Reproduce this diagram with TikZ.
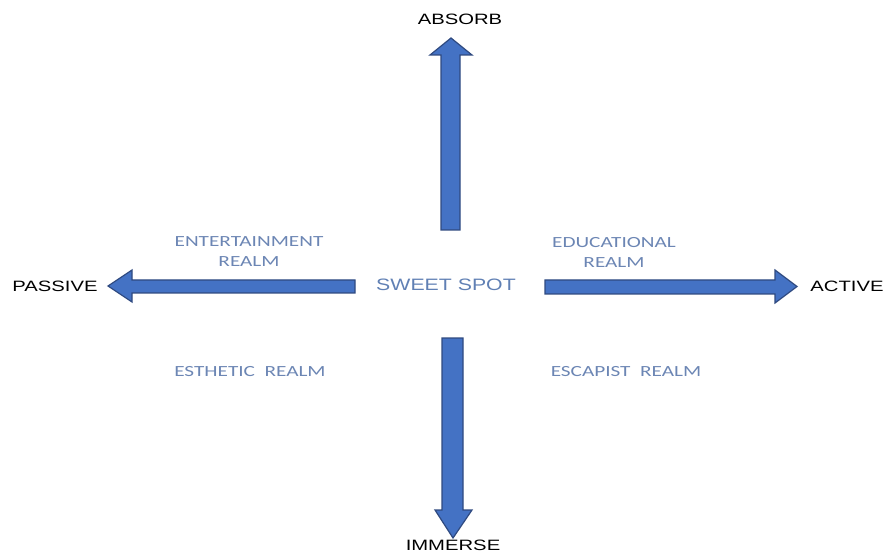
\documentclass[tikz,border=0pt]{standalone}
\usepackage{fontspec}
\setmainfont{Liberation Sans}
\newfontfamily\realmfont{Carlito}
\definecolor{arrowfill}{HTML}{4472C4}
\definecolor{arrowline}{HTML}{2F4A80}
\definecolor{realmblue}{HTML}{6C86B4}
\definecolor{sweetblue}{HTML}{6080B4}
\begin{document}
\begin{tikzpicture}[x=1pt,y=-1pt,
  blockarrow/.style={fill=arrowfill,draw=arrowline,line width=1.2pt,line join=miter},
  pole/.style={font=\fontsize{15}{15}\selectfont,text=black,inner sep=0pt,xscale=1.35,transform shape},
  realm/.style={font=\realmfont\fontsize{15.5}{20}\selectfont,text=realmblue,align=center,inner sep=0pt,xscale=1.37,transform shape},
  sweet/.style={font=\fontsize{16.5}{18}\selectfont,text=sweetblue,inner sep=0pt,xscale=1.29,transform shape}]
\useasboundingbox (0,0) rectangle (886,553);
% block arrows
\draw[blockarrow] (441,230) -- (441,55) -- (430,55) -- (451,38) -- (472,55) -- (460,55) -- (460,230) -- cycle;
\draw[blockarrow] (442,338) -- (442,510) -- (435,510) -- (453,538) -- (472,510) -- (463,510) -- (463,338) -- cycle;
\draw[blockarrow] (355,280) -- (132,280) -- (132,270) -- (108,286) -- (132,302) -- (132,293) -- (355,293) -- cycle;
\draw[blockarrow] (545,280) -- (775,280) -- (775,270) -- (797,286.5) -- (775,303) -- (775,294) -- (545,294) -- cycle;
% pole labels
\node[pole] (absorb) at (460,19) {ABSORB};
\node[pole] (immerse) at (453,545) {IMMERSE};
\node[pole] (passive) at (55,286) {PASSIVE};
\node[pole] (active) at (847,286) {ACTIVE};
% centre and realms
\node[sweet] (sweet) at (446,285) {SWEET SPOT};
\node[realm] (ent) at (249,252) {ENTERTAINMENT\\REALM};
\node[realm] (edu) at (614,252) {EDUCATIONAL\\REALM};
\node[realm] (est) at (250,372) {ESTHETIC\ \ REALM};
\node[realm] (esc) at (626,372) {ESCAPIST\ \ REALM};
\end{tikzpicture}
\end{document}
